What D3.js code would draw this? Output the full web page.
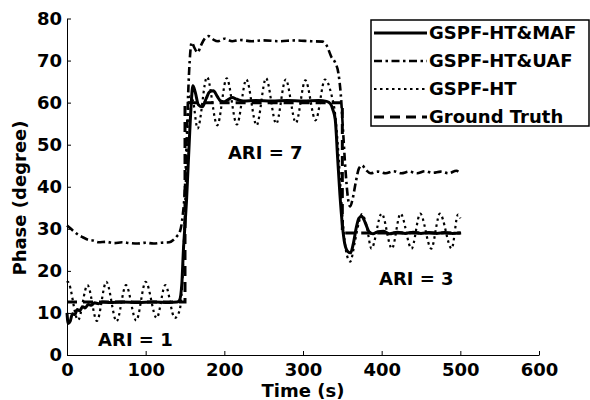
<!DOCTYPE html>
<html>
<head>
<meta charset="utf-8">
<script src="https://cdn.jsdelivr.net/npm/d3@7/dist/d3.min.js"></script>
<style>
	body { margin: 0; background: #fff; }
	text { font-family: "DejaVu Sans", sans-serif; font-weight: bold; }
</style>
</head>
<body>
<div id="graph"></div>
<script>
// [time (s), phase (degree)]
var mafData = [[0,10],[1.5,7.5],[4,8.0],[7,9.8],[10,9.6],[13,10.8],[16,10.5],[20,11.5],[23,11.2],[27,12.0],[31,11.8],
	[35,12.4],[40,12.2],[45,12.6],[55,12.5],[70,12.6],[90,12.5],[110,12.6],[130,12.5],[140,12.6],[143,13],[146,17],
	[148,25],[150,31],[152,37],[154,45],[156,53],[158,60],[160,64],[163,62.5],[167,59.5],[172,59],[177,61],[181,62.5],
	[186,62.8],[191,61.5],[195,60.4],[199,60.2],[204,60.6],[210,61.2],[216,60.8],[224,60.4],[240,60.5],[260,60.4],
	[280,60.5],[300,60.4],[320,60.5],[330,60.3],[335,59.7],[338,58.3],[341,56],[344,47],[347,38],[350,31],[353,26.5],
	[357,24.6],[360.5,24.3],[364,26.5],[368,30.5],[371,32.5],[374.5,33],[379,31.5],[384,29.3],[389,28.8],[395,29.3],
	[402,29.4],[410,28.8],[420,29.2],[430,28.9],[440,29.2],[450,28.9],[460,29.1],[470,28.9],[480,29.1],[490,28.9],[501,29.0]];

var uafData = [[0,30.8],[5,30],[10,29.2],[15,28.5],[20,28],[27,27.4],[33,27.2],[40,26.8],[50,26.9],[60,26.6],[70,26.8],
	[80,26.6],[90,26.5],[100,26.7],[110,26.5],[120,26.7],[130,26.8],[136,27.5],[140,28.3],[143.5,29.3],[147,33],
	[150,40],[152,50],[154,62],[156,70],[158.5,74.3],[162,73],[166,71.9],[170,73.5],[175,75.2],[180,75.8],[186,75],
	[192,74.6],[200,75.2],[210,74.6],[220,74.9],[235,74.6],[250,74.8],[270,74.6],[290,74.8],[310,74.6],[325,74.5],
	[330,73.6],[336,70.9],[341,69.5],[345,67],[348,62],[351,53],[354,44],[357,37.5],[360,35.3],[363,37],[367,41],
	[371,44.3],[375,45.1],[380,44],[386,43.2],[395,43.6],[405,43.2],[415,43.7],[425,43.2],[435,43.6],[445,43.2],
	[455,43.7],[465,43.3],[475,43.6],[485,43.2],[495,43.8],[500,43]];

var htData = [[0,17.2],[1,17.4],[14,8.3],[26,16.6],[38,8.1],[50,17.4],[63,8.0],[75,16.6],[88,8.2],[100,17.4],[114,8.8],
	[125,16.6],[137,8.8],[143,10.5],[147,19],[150,35],[153,53],[156,61.5],[160,60.5],[166,53.8],[178,66.1],[191,54.6],
	[203,65.8],[216,54.8],[228,65.5],[241,54.6],[253,65.8],[266,55],[278,65.5],[291,55.2],[303,65.3],[316,55.8],
	[328,65.5],[336,62],[341,57],[345,48],[349,36],[353,27],[357,23],[360,22.2],[366,27],[371,31.5],[375,33.5],
	[381,30.5],[387,25.3],[400,33.6],[413,25.3],[424,33.6],[438,25.3],[449,33.6],[463,25.3],[474,33.6],[489,25.3],
	[497,33.4],[500,32.5]];

var truthData = [[0,12.6],[150,12.6],[150,60],[350,60],[350,29],[500,29]];

var seriesNames = ["GSPF-HT&MAF", "GSPF-HT&UAF", "GSPF-HT", "Ground Truth"];
var xTicks = [0, 100, 200, 300, 400, 500, 600];
var yTicks = [0, 10, 20, 30, 40, 50, 60, 70, 80];
var notes = [{t: 87, v: 3.6, label: "ARI = 1"}, {t: 252, v: 48.1, label: "ARI = 7"}, {t: 444, v: 18.2, label: "ARI = 3"}];

var w = 590, h = 400;
var plotLeft = 67, plotRight = 539, plotTop = 18.5, plotBottom = 355;

var svg = d3.select("#graph")
	.append("svg")
	.attr("width", w)
	.attr("height", h);

var xScale = d3.scaleLinear().domain([0, 600]).range([plotLeft, plotRight]);
var yScale = d3.scaleLinear().domain([0, 80]).range([plotBottom, plotTop]);

// axes, ticks pointing inside like matlab
var xAxis = svg.append("g")
	.attr("transform", "translate(0," + plotBottom + ")")
	.call(d3.axisBottom(xScale).tickValues(xTicks).tickSizeInner(-4).tickSizeOuter(0).tickPadding(8));
var yAxis = svg.append("g")
	.attr("transform", "translate(" + plotLeft + ",0)")
	.call(d3.axisLeft(yScale).tickValues(yTicks).tickSizeInner(-4).tickSizeOuter(0).tickPadding(5));

[xAxis, yAxis].forEach(function (a) {
	a.attr("font-size", 18).attr("font-family", null);
	a.select(".domain").attr("stroke", "#000").attr("stroke-width", 1);
	a.selectAll(".tick line").attr("stroke", "#000");
	a.selectAll(".tick text").attr("fill", "#000");
});

svg.append("text")
	.attr("x", 303)
	.attr("y", 397)
	.attr("text-anchor", "middle")
	.attr("font-size", 18)
	.text("Time (s)");

svg.append("text")
	.attr("transform", "translate(20,198) rotate(-90)")
	.attr("dy", "0.35em")
	.attr("text-anchor", "middle")
	.attr("font-size", 18)
	.text("Phase (degree)");

var smooth = d3.line()
	.x(function (d) { return xScale(d[0]); })
	.y(function (d) { return yScale(d[1]); })
	.curve(d3.curveMonotoneX);
var straight = d3.line()
	.x(function (d) { return xScale(d[0]); })
	.y(function (d) { return yScale(d[1]); });

var styles = [
	{data: mafData, width: 3, dash: null},
	{data: uafData, width: 2.6, dash: "8,3.5,2.5,3.5"},
	{data: htData, width: 2.2, dash: "2.5,3.5"},
	{data: truthData, width: 3, dash: "10,6"}
];

// draw order: dotted, dash-dot, dashed, then solid on top
[2, 1, 3, 0].forEach(function (i) {
	var s = styles[i];
	svg.append("path")
		.attr("fill", "none")
		.attr("stroke", "#000")
		.attr("stroke-width", s.width)
		.attr("stroke-dasharray", s.dash)
		.attr("d", i == 3 ? straight(s.data) : smooth(s.data));
});

svg.selectAll(".note")
	.data(notes)
	.enter()
	.append("text")
	.attr("class", "note")
	.attr("x", function (d) { return xScale(d.t); })
	.attr("y", function (d) { return yScale(d.v); })
	.attr("dy", "0.35em")
	.attr("text-anchor", "middle")
	.attr("font-size", 18)
	.text(function (d) { return d.label; });

// legend
var legend = svg.append("g");
legend.append("rect")
	.attr("x", 371)
	.attr("y", 20)
	.attr("width", 218)
	.attr("height", 106)
	.attr("fill", "#fff")
	.attr("stroke", "#000")
	.attr("stroke-width", 1.5);

seriesNames.forEach(function (name, i) {
	var yy = 33 + i * 28;
	legend.append("line")
		.attr("x1", 374)
		.attr("x2", 427)
		.attr("y1", yy)
		.attr("y2", yy)
		.attr("stroke", "#000")
		.attr("stroke-width", styles[i].width)
		.attr("stroke-dasharray", styles[i].dash);
	legend.append("text")
		.attr("x", 429)
		.attr("y", yy)
		.attr("dy", "0.35em")
		.attr("font-size", 18)
		.text(name);
});
</script>
</body>
</html>
